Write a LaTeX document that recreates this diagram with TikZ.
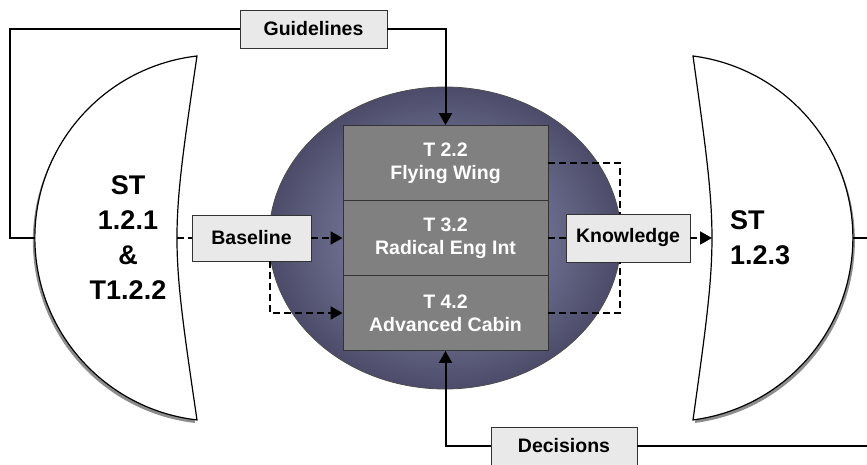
\documentclass[tikz,border=0pt]{standalone}
\usepackage{fontspec}
\setmainfont{Liberation Sans}
\usetikzlibrary{arrows.meta}
\definecolor{disc}{RGB}{150,150,186}
\definecolor{discedge}{RGB}{76,76,106}
\definecolor{taskgray}{RGB}{128,128,128}
\definecolor{tagfill}{RGB}{233,233,233}
\begin{document}
\begin{tikzpicture}[x=1pt,y=1pt,
    taskbox/.style={draw=black!80,line width=0.9pt,fill=taskgray,text=white,minimum width=205pt,minimum height=75pt,align=center,font=\fontsize{19.5}{23}\selectfont\bfseries},
    tag/.style={draw=black!80,line width=0.9pt,fill=tagfill,inner sep=0pt,font=\fontsize{19.5}{23}\selectfont\bfseries},
    flow/.style={line width=2pt},
    flowdash/.style={flow,dash pattern=on 7pt off 4pt},
    tip/.style={-{Triangle[length=12pt,width=13pt]}},
    moon/.style={draw=black,line width=1.2pt,fill=white},
    moonshade/.style={fill=black!45},
    moontext/.style={inner sep=0pt,font=\fontsize{27}{35}\selectfont\bfseries}]
  \useasboundingbox (0,0) rectangle (867,464);
  \clip (0,0) rectangle (867,464);
  \shadedraw[inner color=disc,outer color=discedge,draw=black!70,line width=0.8pt] (445,226) ellipse [x radius=176,y radius=151];

  \fill[moonshade,xshift=-2,yshift=-3] (197,408) arc[start angle=96.6,end angle=263.4,radius=183.2] .. controls (170.3,226) .. (197,408) -- cycle;
  \draw[moon] (197,408) arc[start angle=96.6,end angle=263.4,radius=183.2] .. controls (170.3,226) .. (197,408) -- cycle;
  \fill[moonshade,xshift=2,yshift=-3] (693,408) arc[start angle=82.6,end angle=-82.6,radius=183.5] .. controls (718.3,226) .. (693,408) -- cycle;
  \draw[moon] (693,408) arc[start angle=82.6,end angle=-82.6,radius=183.5] .. controls (718.3,226) .. (693,408) -- cycle;
  \coordinate (st1out) at (35,226);
  \coordinate (st1in) at (177,226);
  \coordinate (st3in) at (712,226);
  \coordinate (st3out) at (853,226);
  \coordinate (loopL) at (10,226);
  \coordinate (loopR) at (880,226);
  \node[moontext,align=center] (st1) at (128,226) {ST\\1.2.1\\\&\\T1.2.2};
  \node[moontext,align=left,anchor=west] (st3) at (730,226) {ST\\1.2.3};

  \node[taskbox] (wing) at (445.5,301) {T 2.2\\Flying Wing};
  \node[taskbox] (eng) at (445.5,226) {T 3.2\\Radical Eng Int};
  \node[taskbox] (cabin) at (445.5,151) {T 4.2\\Advanced Cabin};

  \node[tag,minimum width=147pt,minimum height=38pt] (guide) at (313.5,435) {Guidelines};
  \node[tag,minimum width=119pt,minimum height=46pt] (base) at (251.5,226) {Baseline};
  \node[tag,minimum width=124pt,minimum height=48pt] (know) at (628,226) {Knowledge};
  \node[tag,minimum width=146pt,minimum height=38pt] (dec) at (564,18) {Decisions};

  \draw[flow] (st1out) -- (loopL) |- (guide.west);
  \draw[flow,tip] (guide.east) -| (wing.north);
  \draw[flowdash] (st1in) -- (base.west);
  \draw[flowdash,tip] (base.east) -- (eng.west);
  \draw[flowdash,tip] ([xshift=18.5pt]base.south) |- (cabin.west);
  \draw[flowdash] (wing.east) -| ([xshift=-8pt]know.north);
  \draw[flowdash] (eng.east) -- (know.west);
  \draw[flowdash] (cabin.east) -| ([xshift=-8pt]know.south);
  \draw[flowdash,tip] (know.east) -- (st3in);
  \draw[flow] (st3out) -- (loopR) |- (dec.east);
  \draw[flow,tip] (dec.west) -| (cabin.south);
\end{tikzpicture}
\end{document}
